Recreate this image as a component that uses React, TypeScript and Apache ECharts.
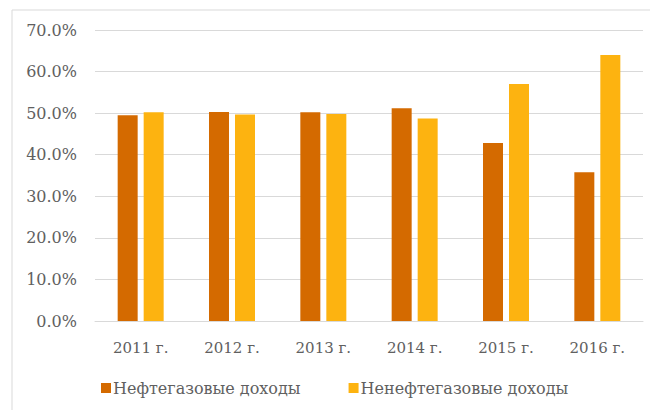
import React, { useEffect, useRef } from "react";
import * as echarts from "echarts";

const categories = ["2011 г.", "2012 г.", "2013 г.", "2014 г.", "2015 г.", "2016 г."];
const oilGas = [49.5, 50.3, 50.2, 51.2, 42.8, 35.8];
const nonOilGas = [50.2, 49.7, 49.8, 48.7, 57.0, 64.0];
const seriesNames = ["Нефтегазовые доходы", "Ненефтегазовые доходы"];

export default function App() {
  const ref = useRef<HTMLDivElement>(null);
  useEffect(() => {
    if (!ref.current) return;
    const chart = echarts.init(ref.current, null, { renderer: "svg" });
    const font = "DejaVu Serif";
    chart.setOption({
      animation: false,
      backgroundColor: "#ffffff",
      textStyle: { fontFamily: font },
      graphic: [
        {
          type: "rect",
          shape: { x: 12, y: 10, width: 700, height: 500 },
          style: { fill: "none", stroke: "#d9d9d9", lineWidth: 1 },
          silent: true,
        },
      ],
      grid: { left: 95, right: 7, top: 30, bottom: 89, containLabel: false },
      legend: {
        data: seriesNames,
        left: 96,
        top: 375,
        icon: "rect",
        itemWidth: 10,
        itemHeight: 10,
        itemGap: 48,
        itemStyle: { borderWidth: 0 },
        textStyle: { color: "#606060", fontSize: 16, fontFamily: font, padding: [0, 0, 0, -3] },
      },
      xAxis: {
        type: "category",
        data: categories,
        axisLine: { lineStyle: { color: "#d9d9d9" } },
        axisTick: { show: false },
        axisLabel: { color: "#606060", fontSize: 15, fontFamily: font, margin: 19 },
      },
      yAxis: {
        type: "value",
        min: 0,
        max: 70,
        interval: 10,
        axisLine: { show: false },
        axisTick: { show: false },
        splitLine: { lineStyle: { color: "#d9d9d9" } },
        axisLabel: {
          color: "#606060",
          fontSize: 16,
          fontFamily: font,
          margin: 18,
          formatter: (v: number) => v.toFixed(1) + "%",
        },
      },
      series: [
        {
          name: seriesNames[0],
          type: "bar",
          data: oilGas,
          barWidth: 20,
          barGap: "30%",
          itemStyle: { color: "#D46A00" },
        },
        {
          name: seriesNames[1],
          type: "bar",
          data: nonOilGas,
          barWidth: 20,
          itemStyle: { color: "#FDB310" },
        },
      ],
    });
    return () => chart.dispose();
  }, []);
  return (
    <div
      ref={ref}
      style={{ position: "fixed", left: 0, top: 0, width: 650, height: 410 }}
    />
  );
}
